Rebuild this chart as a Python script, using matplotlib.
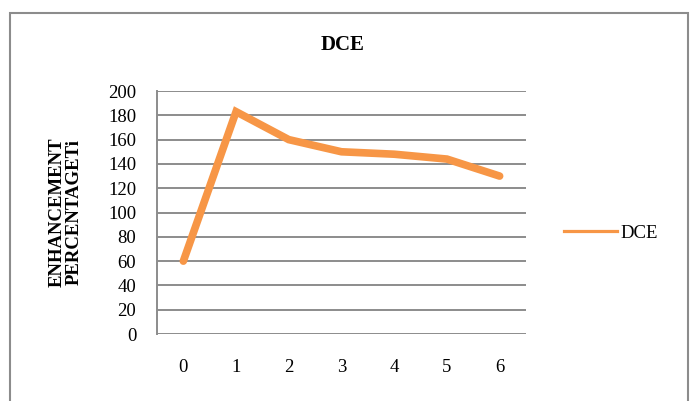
import matplotlib
matplotlib.use('Agg')
import matplotlib.pyplot as plt
from matplotlib.patches import Rectangle
from matplotlib.lines import Line2D

categories = ['0', '1', '2', '3', '4', '5', '6']
dce = [60, 183, 160, 150, 148, 144, 130]
yticks = [0, 20, 40, 60, 80, 100, 120, 140, 160, 180, 200]

plt.rcParams['font.family'] = ['Liberation Serif', 'DejaVu Serif']

fig = plt.figure(figsize=(6.91, 4.01), dpi=100)
ax = fig.add_axes([0.2272, 0.167, 0.534, 0.606])

x = list(range(len(categories)))
ax.plot(x, dce, color='#F79646', linewidth=5.5, solid_capstyle='round',
        solid_joinstyle='miter', label='DCE', zorder=3)

ax.set_xlim(-0.5, len(categories) - 0.5)
ax.set_ylim(0, 200)
ax.set_yticks(yticks)
ax.set_xticks(x)
ax.set_xticklabels(categories)
ax.tick_params(length=0, labelsize=13.5, colors='black')
ax.tick_params(axis='x', pad=18)
ax.tick_params(axis='y', pad=15)
ax.grid(axis='y', color='#8c8c8c', linewidth=1.4)
ax.set_axisbelow(True)
for s in ['top', 'right', 'bottom']:
    ax.spines[s].set_visible(False)
ax.spines['left'].set_color('#8c8c8c')
ax.spines['left'].set_linewidth(1.4)

fig.text(0.496, 0.888, 'DCE', ha='center', va='center', fontsize=15, fontweight='bold')
fig.text(0.095, 0.471, 'ENHANCEMENT\nPERCENTAGETi', ha='center', va='center',
         rotation=90, fontsize=13.5, fontweight='bold', linespacing=1.05)

handle = Line2D([], [], color='#F79646', linewidth=2.3)
fig.legend([handle], ['DCE'], loc='center left', bbox_to_anchor=(0.792, 0.418),
           frameon=False, fontsize=13.5, handlelength=2.8, handletextpad=0.2)

fig.patches.append(Rectangle((10 / 691, -0.05), 678 / 691, 1 - 13 / 401 + 0.05,
                             transform=fig.transFigure, fill=False,
                             edgecolor='#8c8c8c', linewidth=1.5))

fig.savefig('out.png', dpi=100)
